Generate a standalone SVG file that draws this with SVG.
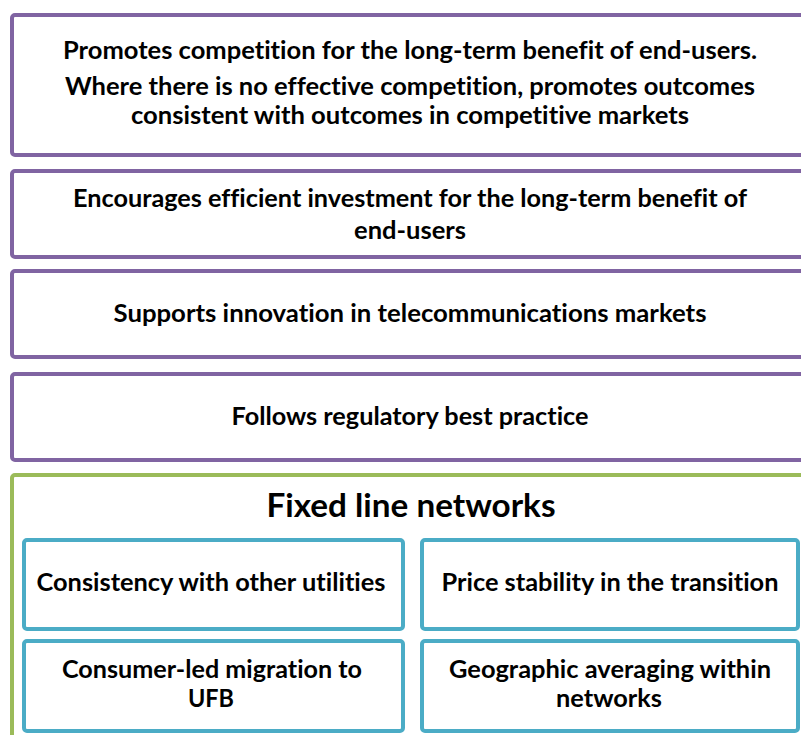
<svg xmlns="http://www.w3.org/2000/svg" width="801" height="735" viewBox="0 0 801 735">
  <style>
    .goal { fill: #ffffff; stroke: #8064A2; stroke-width: 4; }
    .group { fill: #ffffff; stroke: #9BBB59; stroke-width: 4; }
    .item { fill: #ffffff; stroke: #4BACC6; stroke-width: 4; }
    text { font-family: Lato, "Liberation Sans", sans-serif; font-weight: bold; fill: #000000; text-anchor: middle; font-variant-ligatures: none; font-feature-settings: "liga" 0, "clig" 0; }
    .t { font-size: 24px; }
    .h { font-size: 32px; }
  </style>
  <rect width="801" height="735" fill="#ffffff"/>

  <g id="goal-competition">
    <rect class="goal" x="12" y="15" width="800" height="140" rx="3"/>
    <text class="t" x="410" y="59" textLength="694" lengthAdjust="spacingAndGlyphs">Promotes competition for the long-term benefit of end-users.</text>
    <text class="t" x="410" y="95" textLength="690" lengthAdjust="spacingAndGlyphs">Where there is no effective competition, promotes outcomes</text>
    <text class="t" x="410" y="124" textLength="558" lengthAdjust="spacingAndGlyphs">consistent with outcomes in competitive markets</text>
  </g>

  <g id="goal-investment">
    <rect class="goal" x="12" y="171" width="800" height="86" rx="3"/>
    <text class="t" x="410" y="207" textLength="674" lengthAdjust="spacingAndGlyphs">Encourages efficient investment for the long-term benefit of</text>
    <text class="t" x="410" y="239" textLength="112" lengthAdjust="spacingAndGlyphs">end-users</text>
  </g>

  <g id="goal-innovation">
    <rect class="goal" x="12" y="271" width="800" height="86" rx="3"/>
    <text class="t" x="410" y="322" textLength="593" lengthAdjust="spacingAndGlyphs">Supports innovation in telecommunications markets</text>
  </g>

  <g id="goal-practice">
    <rect class="goal" x="12" y="374" width="800" height="86" rx="3"/>
    <text class="t" x="410" y="425" textLength="357" lengthAdjust="spacingAndGlyphs">Follows regulatory best practice</text>
  </g>

  <g id="fixed-line">
    <rect class="group" x="12" y="475" width="800" height="280" rx="3"/>
    <text class="h" x="411" y="517" textLength="289" lengthAdjust="spacingAndGlyphs">Fixed line networks</text>
  </g>

  <g id="consistency">
    <rect class="item" x="24" y="540" width="379" height="89" rx="3"/>
    <text class="t" x="211" y="591" textLength="349" lengthAdjust="spacingAndGlyphs">Consistency with other utilities</text>
  </g>

  <g id="price-stability">
    <rect class="item" x="422" y="540" width="376" height="89" rx="3"/>
    <text class="t" x="610" y="591" textLength="337" lengthAdjust="spacingAndGlyphs">Price stability in the transition</text>
  </g>

  <g id="migration">
    <rect class="item" x="24" y="641" width="379" height="90" rx="3"/>
    <text class="t" x="212" y="678" textLength="300" lengthAdjust="spacingAndGlyphs">Consumer-led migration to</text>
    <text class="t" x="211" y="707" textLength="46" lengthAdjust="spacingAndGlyphs">UFB</text>
  </g>

  <g id="averaging">
    <rect class="item" x="422" y="641" width="376" height="90" rx="3"/>
    <text class="t" x="610" y="678" textLength="322" lengthAdjust="spacingAndGlyphs">Geographic averaging within</text>
    <text class="t" x="609" y="707" textLength="106" lengthAdjust="spacingAndGlyphs">networks</text>
  </g>

  <g id="connectors"/>
</svg>
